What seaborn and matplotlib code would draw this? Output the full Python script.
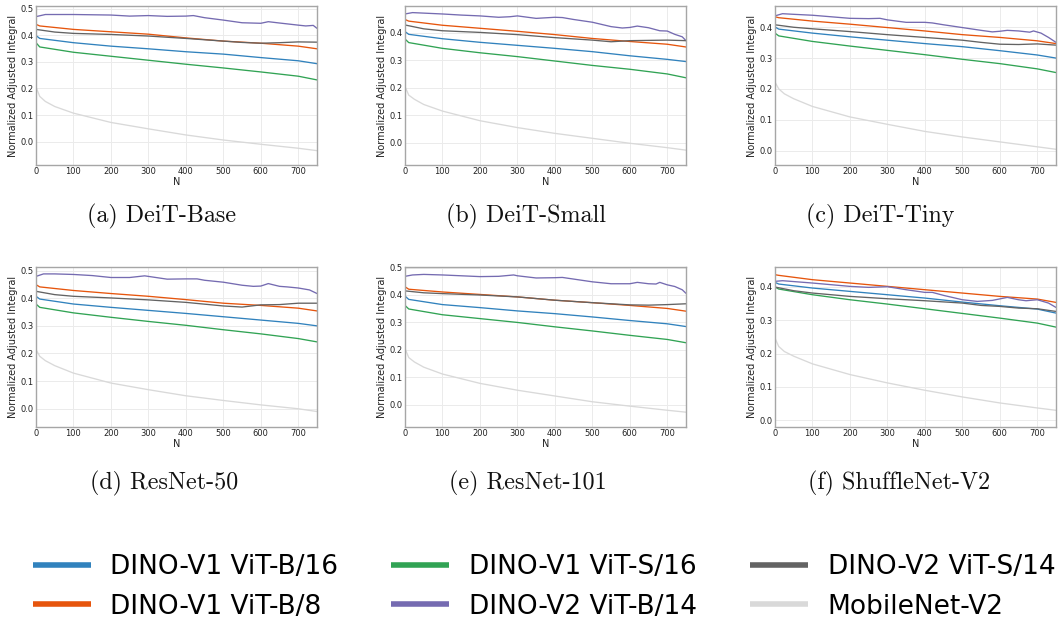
import numpy as np
import pandas as pd
import matplotlib
matplotlib.use("Agg")
import matplotlib.pyplot as plt
import seaborn as sns
from matplotlib.lines import Line2D

# ---------------- data ----------------
PANELS = ["DeiT-Base", "DeiT-Small", "DeiT-Tiny", "ResNet-50", "ResNet-101", "ShuffleNet-V2"]
CAPTIONS = ["(a) DeiT-Base", "(b) DeiT-Small", "(c) DeiT-Tiny",
            "(d) ResNet-50", "(e) ResNet-101", "(f) ShuffleNet-V2"]
MODELS = ["DINO-V1 ViT-B/16", "DINO-V1 ViT-B/8", "DINO-V1 ViT-S/16",
          "DINO-V2 ViT-B/14", "DINO-V2 ViT-S/14", "MobileNet-V2"]
COLORS = ["#3182bd", "#e6550d", "#31a354", "#756bb1", "#636363", "#d9d9d9"]

N_LIN = [0, 10, 100, 200, 300, 400, 500, 600, 700, 750]
N_S14 = [0, 50, 100, 200, 300, 400, 500, 550, 600, 650, 700, 750]
N_MOB = [0, 10, 25, 50, 100, 200, 300, 400, 500, 600, 700, 750]

V1_B16 = {
    "DeiT-Base":     [0.399, 0.388, 0.372, 0.359, 0.349, 0.338, 0.329, 0.316, 0.304, 0.293],
    "DeiT-Small":    [0.404, 0.394, 0.378, 0.365, 0.354, 0.343, 0.331, 0.316, 0.303, 0.295],
    "DeiT-Tiny":     [0.401, 0.394, 0.381, 0.369, 0.358, 0.347, 0.337, 0.324, 0.310, 0.300],
    "ResNet-50":     [0.407, 0.397, 0.379, 0.367, 0.356, 0.345, 0.333, 0.321, 0.309, 0.300],
    "ResNet-101":    [0.396, 0.384, 0.365, 0.354, 0.342, 0.332, 0.320, 0.307, 0.295, 0.285],
    "ShuffleNet-V2": [0.413, 0.408, 0.396, 0.386, 0.376, 0.366, 0.354, 0.343, 0.333, 0.321],
}
V1_B8 = {
    "DeiT-Base":     [0.441, 0.435, 0.422, 0.413, 0.404, 0.390, 0.378, 0.370, 0.359, 0.349],
    "DeiT-Small":    [0.448, 0.442, 0.427, 0.416, 0.405, 0.393, 0.379, 0.368, 0.358, 0.348],
    "DeiT-Tiny":     [0.434, 0.431, 0.420, 0.410, 0.399, 0.388, 0.376, 0.367, 0.356, 0.347],
    "ResNet-50":     [0.449, 0.441, 0.428, 0.417, 0.407, 0.395, 0.382, 0.374, 0.364, 0.354],
    "ResNet-101":    [0.430, 0.421, 0.411, 0.402, 0.393, 0.381, 0.372, 0.362, 0.351, 0.341],
    "ShuffleNet-V2": [0.436, 0.434, 0.421, 0.411, 0.401, 0.391, 0.381, 0.371, 0.363, 0.353],
}
V1_S16 = {
    "DeiT-Base":     [0.372, 0.356, 0.336, 0.321, 0.306, 0.291, 0.277, 0.262, 0.246, 0.232],
    "DeiT-Small":    [0.377, 0.364, 0.343, 0.327, 0.313, 0.297, 0.281, 0.267, 0.250, 0.236],
    "DeiT-Tiny":     [0.381, 0.372, 0.354, 0.339, 0.325, 0.311, 0.296, 0.282, 0.265, 0.253],
    "ResNet-50":     [0.379, 0.367, 0.347, 0.331, 0.316, 0.302, 0.286, 0.271, 0.254, 0.242],
    "ResNet-101":    [0.362, 0.349, 0.328, 0.314, 0.300, 0.284, 0.269, 0.253, 0.238, 0.226],
    "ShuffleNet-V2": [0.399, 0.393, 0.376, 0.361, 0.348, 0.334, 0.320, 0.306, 0.291, 0.279],
}
V2_S14 = {
    "DeiT-Base":     [0.422, 0.412, 0.407, 0.403, 0.397, 0.388, 0.378, 0.373, 0.370, 0.372, 0.375, 0.374],
    "DeiT-Small":    [0.428, 0.414, 0.407, 0.401, 0.393, 0.382, 0.373, 0.367, 0.371, 0.372, 0.373, 0.371],
    "DeiT-Tiny":     [0.408, 0.400, 0.395, 0.386, 0.376, 0.367, 0.358, 0.351, 0.345, 0.344, 0.346, 0.342],
    "ResNet-50":     [0.425, 0.413, 0.407, 0.401, 0.394, 0.385, 0.372, 0.368, 0.376, 0.377, 0.382, 0.382],
    "ResNet-101":    [0.415, 0.408, 0.405, 0.400, 0.393, 0.381, 0.372, 0.368, 0.364, 0.363, 0.365, 0.368],
    "ShuffleNet-V2": [0.399, 0.388, 0.381, 0.371, 0.364, 0.358, 0.351, 0.344, 0.341, 0.336, 0.334, 0.326],
}
MOBILENET = {
    "DeiT-Base":     [0.205, 0.170, 0.151, 0.132, 0.107, 0.072, 0.048, 0.025, 0.006, -0.010, -0.025, -0.034],
    "DeiT-Small":    [0.204, 0.173, 0.158, 0.139, 0.115, 0.080, 0.055, 0.034, 0.016, -0.002, -0.018, -0.027],
    "DeiT-Tiny":     [0.222, 0.200, 0.184, 0.168, 0.143, 0.109, 0.085, 0.062, 0.044, 0.028, 0.012, 0.004],
    "ResNet-50":     [0.214, 0.190, 0.174, 0.156, 0.129, 0.093, 0.069, 0.047, 0.030, 0.014, 0.000, -0.010],
    "ResNet-101":    [0.205, 0.172, 0.156, 0.137, 0.112, 0.078, 0.053, 0.032, 0.011, -0.005, -0.020, -0.027],
    "ShuffleNet-V2": [0.246, 0.221, 0.206, 0.192, 0.169, 0.137, 0.112, 0.090, 0.070, 0.052, 0.037, 0.030],
}
V2_B14_N = {
    "DeiT-Base":     [0, 25, 50, 100, 150, 200, 250, 300, 350, 400, 420, 450, 500, 550, 600, 620, 650, 700, 720, 740, 750],
    "DeiT-Small":    [0, 20, 100, 150, 200, 250, 280, 300, 350, 400, 420, 450, 500, 550, 580, 600, 620, 650, 680, 700, 720, 740, 750],
    "DeiT-Tiny":     [0, 20, 50, 100, 150, 200, 250, 280, 300, 350, 400, 420, 450, 500, 550, 580, 600, 620, 650, 680, 690, 710, 730, 750],
    "ResNet-50":     [0, 20, 50, 100, 150, 200, 250, 290, 300, 350, 400, 430, 450, 500, 550, 580, 600, 620, 650, 670, 700, 730, 750],
    "ResNet-101":    [0, 20, 50, 100, 150, 200, 250, 290, 300, 350, 400, 420, 450, 500, 550, 600, 620, 650, 670, 680, 700, 720, 740, 750],
    "ShuffleNet-V2": [0, 20, 100, 200, 250, 300, 350, 400, 420, 450, 500, 540, 580, 620, 650, 670, 700, 730, 750],
}
V2_B14 = {
    "DeiT-Base":     [0.470, 0.478, 0.478, 0.478, 0.477, 0.476, 0.472, 0.474, 0.471, 0.472, 0.474, 0.466, 0.457, 0.447, 0.445, 0.451, 0.446, 0.438, 0.435, 0.437, 0.426],
    "DeiT-Small":    [0.468, 0.473, 0.468, 0.464, 0.461, 0.456, 0.458, 0.461, 0.452, 0.456, 0.455, 0.448, 0.438, 0.422, 0.417, 0.419, 0.424, 0.418, 0.407, 0.406, 0.394, 0.385, 0.371],
    "DeiT-Tiny":     [0.437, 0.444, 0.442, 0.439, 0.434, 0.429, 0.428, 0.429, 0.424, 0.416, 0.416, 0.414, 0.408, 0.399, 0.390, 0.385, 0.387, 0.390, 0.388, 0.384, 0.388, 0.381, 0.367, 0.351],
    "ResNet-50":     [0.479, 0.488, 0.488, 0.486, 0.482, 0.475, 0.475, 0.481, 0.479, 0.469, 0.470, 0.470, 0.465, 0.458, 0.447, 0.443, 0.444, 0.453, 0.443, 0.441, 0.437, 0.430, 0.417],
    "ResNet-101":    [0.468, 0.473, 0.475, 0.473, 0.470, 0.467, 0.468, 0.473, 0.470, 0.462, 0.463, 0.464, 0.458, 0.448, 0.441, 0.441, 0.446, 0.441, 0.440, 0.446, 0.437, 0.431, 0.419, 0.406],
    "ShuffleNet-V2": [0.416, 0.418, 0.411, 0.401, 0.398, 0.400, 0.391, 0.383, 0.383, 0.374, 0.361, 0.356, 0.359, 0.368, 0.361, 0.358, 0.361, 0.351, 0.338],
}

YLIMS = {
    "DeiT-Base": (-0.088, 0.510), "DeiT-Small": (-0.081, 0.497), "DeiT-Tiny": (-0.047, 0.469),
    "ResNet-50": (-0.066, 0.513), "ResNet-101": (-0.081, 0.502), "ShuffleNet-V2": (-0.020, 0.459),
}

# ---------------- style ----------------
sns.set_theme(style="whitegrid", rc={
    "axes.edgecolor": "#a6a6a6",
    "axes.linewidth": 1.0,
    "grid.color": "#ebebeb",
    "grid.linewidth": 0.7,
    "xtick.color": "#222222",
    "ytick.color": "#222222",
    "axes.labelcolor": "#222222",
    "xtick.major.size": 0,
    "ytick.major.size": 0,
    "xtick.major.pad": 1.5,
    "ytick.major.pad": 1.5,
})
plt.rcParams["font.family"] = ["DejaVu Sans"]

W, H = 1058, 621
fig = plt.figure(figsize=(W / 100, H / 100), dpi=100)

lefts = [36, 405, 775]
rows = [(6, 165), (267, 427)]
axw = 281
cap_x = [162, 526, 880, 164, 528, 899]
cap_y = [216, 483]

palette = dict(zip(MODELS, COLORS))

for i, panel in enumerate(PANELS):
    r, c = divmod(i, 3)
    top, bot = rows[r]
    ax = fig.add_axes([lefts[c] / W, 1 - bot / H, axw / W, (bot - top) / H])
    frames = [
        pd.DataFrame({"N": N_LIN, "v": V1_B16[panel], "model": MODELS[0]}),
        pd.DataFrame({"N": N_LIN, "v": V1_B8[panel], "model": MODELS[1]}),
        pd.DataFrame({"N": N_LIN, "v": V1_S16[panel], "model": MODELS[2]}),
        pd.DataFrame({"N": V2_B14_N[panel], "v": V2_B14[panel], "model": MODELS[3]}),
        pd.DataFrame({"N": N_S14, "v": V2_S14[panel], "model": MODELS[4]}),
        pd.DataFrame({"N": N_MOB, "v": MOBILENET[panel], "model": MODELS[5]}),
    ]
    df = pd.concat(frames, ignore_index=True)
    sns.lineplot(data=df, x="N", y="v", hue="model", hue_order=MODELS,
                 palette=palette, linewidth=0.95, legend=False, ax=ax,
                 estimator=None, sort=True)
    ax.set_xlim(0, 750)
    ax.set_ylim(*YLIMS[panel])
    ax.set_xticks([0, 100, 200, 300, 400, 500, 600, 700])
    ax.tick_params(labelsize=6)
    ax.set_xlabel("N", fontsize=7, labelpad=0.5)
    ax.set_ylabel("Normalized Adjusted Integral", fontsize=7, labelpad=2)
    for s in ax.spines.values():
        s.set_color("#a6a6a6")
        s.set_visible(True)
    fig.text(cap_x[i] / W, 1 - cap_y[r] / H, CAPTIONS[i], family="cmr10",
             fontsize=17.3, ha="center", va="center", color="#111111")

handles = [Line2D([0], [0], color=col, lw=4, solid_capstyle="butt") for col in COLORS]
leg = fig.legend(handles, MODELS, loc="center", ncol=3, frameon=False,
                 bbox_to_anchor=(544 / W, 1 - 587 / H), fontsize=19,
                 handlelength=2.2, handletextpad=0.75, columnspacing=2.0,
                 labelspacing=0.5)
for t in leg.get_texts():
    t.set_color("#000000")

fig.savefig("out.png", dpi=100)
